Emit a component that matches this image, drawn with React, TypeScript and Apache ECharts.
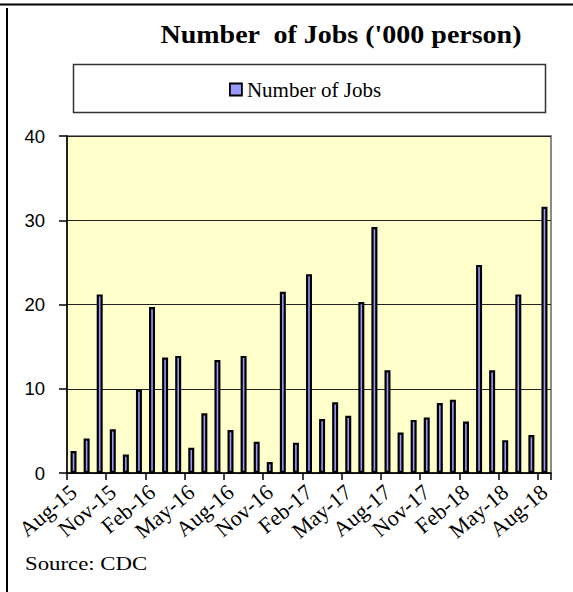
import React, { useEffect, useRef } from "react";
import * as echarts from "echarts";

const categories: string[] = [
  "Aug-15", "Sep-15", "Oct-15", "Nov-15", "Dec-15", "Jan-16", "Feb-16", "Mar-16", "Apr-16",
  "May-16", "Jun-16", "Jul-16", "Aug-16", "Sep-16", "Oct-16", "Nov-16", "Dec-16", "Jan-17",
  "Feb-17", "Mar-17", "Apr-17", "May-17", "Jun-17", "Jul-17", "Aug-17", "Sep-17", "Oct-17",
  "Nov-17", "Dec-17", "Jan-18", "Feb-18", "Mar-18", "Apr-18", "May-18", "Jun-18", "Jul-18",
  "Aug-18",
];

const jobs: number[] = [
  2.6, 4.1, 21.2, 5.2, 2.2, 9.9, 19.7, 13.7, 13.9, 3.0, 7.1, 13.4, 5.1, 13.9, 3.7, 1.3, 21.5,
  3.6, 23.6, 6.4, 8.4, 6.8, 20.3, 29.2, 12.2, 4.8, 6.3, 6.6, 8.3, 8.7, 6.1, 24.7, 12.2, 3.9,
  21.2, 4.5, 31.6,
];

const seriesName = "Number of Jobs";
const titleText = "Number  of Jobs ('000 person)";
const sourceText = "Source: CDC";

export default function App() {
  const ref = useRef<HTMLDivElement>(null);
  useEffect(() => {
    if (!ref.current) return;
    const chart = echarts.init(ref.current, undefined, { renderer: "svg" });
    chart.setOption({
      animation: false,
      backgroundColor: "#ffffff",
      grid: {
        left: 67,
        top: 136,
        width: 484,
        height: 337,
        show: true,
        backgroundColor: "#FFFFCC",
        borderColor: "#8a8a8a",
        borderWidth: 2,
      },
      legend: {
        data: [seriesName],
        icon: "rect",
        itemWidth: 12,
        itemHeight: 12,
        left: 229,
        top: 79,
        padding: 0,
        z: 5,
        itemStyle: { color: "#9999FF", borderColor: "#000", borderWidth: 1.8 },
        textStyle: { fontFamily: "Liberation Serif", fontSize: 21, color: "#000" },
      },
      graphic: [
        { type: "line", shape: { x1: 0, y1: 4.5, x2: 573, y2: 4.5 }, style: { stroke: "#000", lineWidth: 2 } },
        { type: "line", shape: { x1: 7, y1: 8, x2: 7, y2: 592 }, style: { stroke: "#000", lineWidth: 2 } },
        {
          type: "rect",
          z: 0,
          shape: { x: 73.5, y: 64.5, width: 472, height: 48 },
          style: { fill: "#fff", stroke: "#333", lineWidth: 1.5 },
        },
        {
          type: "text",
          x: 160.5,
          y: 35,
          scaleX: 1.12,
          style: {
            text: titleText,
            font: 'bold 25px "Liberation Serif"',
            fill: "#000",
            align: "left",
            verticalAlign: "middle",
          },
        },
        {
          type: "text",
          x: 25,
          y: 564,
          scaleX: 1.2,
          style: {
            text: sourceText,
            font: '19px "Liberation Serif"',
            fill: "#000",
            align: "left",
            verticalAlign: "middle",
          },
        },
      ],
      xAxis: {
        type: "category",
        data: categories,
        boundaryGap: true,
        axisLine: { show: true, lineStyle: { color: "#000", width: 1.5 } },
        axisTick: { show: true, interval: 2, length: 7, lineStyle: { color: "#000", width: 1.5 } },
        axisLabel: {
          interval: 2,
          rotate: 40,
          margin: 16,
          fontFamily: "Liberation Serif",
          fontSize: 22,
          color: "#000",
        },
        splitLine: { show: false },
      },
      yAxis: {
        type: "value",
        min: 0,
        max: 40,
        interval: 10,
        axisLine: { show: true, lineStyle: { color: "#000", width: 1.5 } },
        axisTick: { show: true, length: 8, lineStyle: { color: "#000", width: 1.5 } },
        axisLabel: {
          margin: 22,
          fontFamily: "Liberation Sans",
          fontSize: 18.5,
          color: "#000",
        },
        splitLine: { show: true, lineStyle: { color: "#222", width: 1.2 } },
      },
      series: [
        {
          name: seriesName,
          type: "bar",
          data: jobs,
          barWidth: 6,
          itemStyle: { color: "#9999FF", borderColor: "#000", borderWidth: 2.2 },
        },
      ],
    });
    return () => chart.dispose();
  }, []);
  return (
    <div
      ref={ref}
      style={{ position: "absolute", left: 0, top: 0, width: 573, height: 592 }}
    />
  );
}
